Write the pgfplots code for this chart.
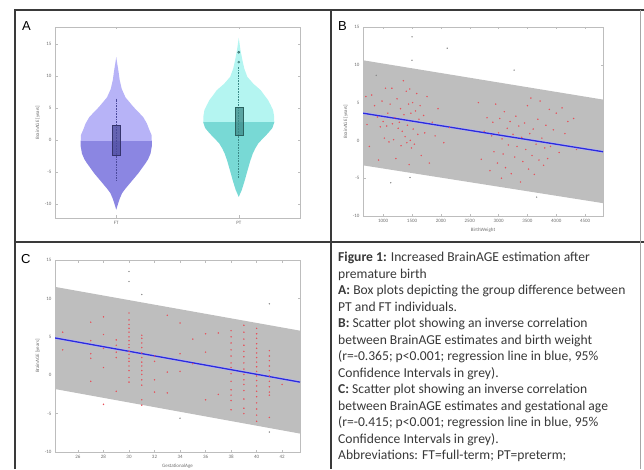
\documentclass[border=0pt]{standalone}
\usepackage{fontspec}
\setmainfont{Carlito}
\newfontfamily\arialf{Liberation Sans}
\usepackage{pgfplots}
\pgfplotsset{compat=1.18}

\definecolor{fram}{HTML}{3A3A3A}
\definecolor{axgray}{HTML}{BDBDBD}
\definecolor{ticklab}{HTML}{6E6E6E}
\definecolor{vioAup}{HTML}{B7B3F7}
\definecolor{vioAlo}{HTML}{8B86E2}
\definecolor{vioBup}{HTML}{B4F5F1}
\definecolor{vioBlo}{HTML}{78D9D5}
\definecolor{boxA}{HTML}{4B4A9C}
\definecolor{boxB}{HTML}{3C8A88}
\definecolor{band}{HTML}{BEBEBE}
\definecolor{regline}{HTML}{2A2AE0}
\definecolor{dotred}{HTML}{E8505A}
\definecolor{dotgray}{HTML}{8A8A8A}
\definecolor{captxt}{HTML}{383838}

\pgfplotsset{
  panel/.style={
    scale only axis, anchor=south west,
    axis line style={axgray, line width=0.5pt},
    tick style={axgray, line width=0.4pt},
    major tick length=2.5pt,
    tick align=inside,
    xtick pos=both, ytick pos=both,
    ticklabel style={font=\fontsize{5}{5}\selectfont, text=ticklab},
    label style={font=\fontsize{5}{5}\selectfont, text=ticklab},
    /pgf/number format/assume math mode=true,
    /pgf/number format/1000 sep={},
    ylabel={BrainAGE [years]},
    xlabel style={yshift=2pt},
    ylabel style={yshift=-2pt},
  },
  dots/.style={only marks, mark=*, mark size=0.65pt, mark options={fill=dotred, draw=dotred, line width=0.1pt}},
  gdots/.style={only marks, mark=*, mark size=0.6pt, mark options={fill=dotgray, draw=dotgray, line width=0.1pt}},
}

\begin{document}
\begin{tikzpicture}
\useasboundingbox (0pt,0pt) rectangle (644pt,469pt);

% ---------- Panel A ----------
\begin{axis}[panel, at={(55pt,251pt)}, width=245pt, height=191pt,
  xmin=0.5, xmax=2.5, ymin=-12.2, ymax=17.7,
  xtick={1,2}, xticklabels={FT,PT}, ytick={-10,-5,0,5,10,15}]
\addplot[fill=vioAup, draw=none] coordinates {
 (1.29,-0.15) (1.288,0.8) (1.27,1.6) (1.25,2.6) (1.22,3.6) (1.18,4.4) (1.14,5.2) (1.105,6.0) (1.075,6.7) (1.045,8.0) (1.028,9.4) (1.018,10.8) (1.008,12.0) (1.0,13.0)
 (0.992,12.0) (0.982,10.8) (0.972,9.4) (0.955,8.0) (0.925,6.7) (0.895,6.0) (0.86,5.2) (0.82,4.4) (0.78,3.6) (0.75,2.6) (0.73,1.6) (0.712,0.8) (0.71,-0.15)} -- cycle;
\addplot[fill=vioAlo, draw=none] coordinates {
 (1.29,-0.15) (1.29,-1.0) (1.28,-2.1) (1.26,-3.0) (1.24,-3.6) (1.21,-4.4) (1.18,-5.2) (1.145,-6.0) (1.11,-6.8) (1.075,-7.6) (1.048,-8.3) (1.03,-9.1) (1.016,-9.9) (1.0,-10.9)
 (0.984,-9.9) (0.97,-9.1) (0.952,-8.3) (0.925,-7.6) (0.89,-6.8) (0.855,-6.0) (0.82,-5.2) (0.79,-4.4) (0.76,-3.6) (0.74,-3.0) (0.72,-2.1) (0.71,-1.0) (0.71,-0.15)} -- cycle;
\addplot[fill=vioBup, draw=none] coordinates {
 (2.29,2.8) (2.288,3.8) (2.28,4.7) (2.26,5.5) (2.24,6.25) (2.21,7.0) (2.18,7.8) (2.12,8.8) (2.07,9.9) (2.045,11.2) (2.03,12.5) (2.015,14.0) (2.0,16.0)
 (1.985,14.0) (1.97,12.5) (1.955,11.2) (1.93,9.9) (1.88,8.8) (1.82,7.8) (1.79,7.0) (1.76,6.25) (1.74,5.5) (1.72,4.7) (1.712,3.8) (1.71,2.8)} -- cycle;
\addplot[fill=vioBlo, draw=none] coordinates {
 (2.29,2.8) (2.275,1.9) (2.24,1.1) (2.2,0.3) (2.16,-0.5) (2.135,-1.3) (2.115,-2.1) (2.095,-3.2) (2.08,-4.2) (2.065,-5.2) (2.05,-6.25) (2.038,-7.0) (2.025,-7.8) (2.0,-8.9)
 (1.975,-7.8) (1.962,-7.0) (1.95,-6.25) (1.935,-5.2) (1.92,-4.2) (1.905,-3.2) (1.885,-2.1) (1.865,-1.3) (1.84,-0.5) (1.8,0.3) (1.76,1.1) (1.725,1.9) (1.71,2.8)} -- cycle;
\addplot[boxA, densely dotted, line width=0.6pt] coordinates {(1,-6.3) (1,6.5)};
\addplot[boxB, densely dotted, line width=0.6pt] coordinates {(2,-5.9) (2,11.4)};
\addplot[fill=boxA, fill opacity=0.75, draw=boxA!70!black, line width=0.3pt] coordinates {(0.967,-2.3) (1.033,-2.3) (1.033,2.3) (0.967,2.3)} -- cycle;
\addplot[fill=boxB, fill opacity=0.75, draw=boxB!70!black, line width=0.3pt] coordinates {(1.967,0.8) (2.033,0.8) (2.033,5.2) (1.967,5.2)} -- cycle;
\addplot[only marks, mark=*, mark size=1.1pt, mark options={fill=boxB!80, draw=boxB!70!black, line width=0.3pt}] coordinates {(2,13.75) (2,12.2)};
\end{axis}

% ---------- Panel B ----------
\begin{axis}[panel, at={(363pt,253pt)}, width=240pt, height=189pt,
  xmin=650, xmax=4810, ymin=-10, ymax=15,
  xtick={1000,1500,2000,2500,3000,3500,4000,4500}, ytick={-10,-5,0,5,10,15},
  xlabel={BirthWeight}]
\addplot[gdots] coordinates {
(880,8.6) (1500,13.7) (1500,10.6) (2110,12.2) (3270,9.3) (1130,-5.6) (1465,-4.9) (3660,-7.5)
};
\addplot[fill=band, draw=none] coordinates {(650,10.6) (4810,5.4) (4810,-8.3) (650,-3.3)} -- cycle;
\addplot[dots] coordinates {
(700,5.8) (720,2.1) (760,-0.8) (800,6.0) (850,4.6) (900,3.1) (920,-2.6) (950,1.8) (980,5.2) (1000,2.5) (1020,0.3) (1040,6.9) (1060,1.9) (1080,3.6) (1100,-0.2) (1120,4.8) (1150,6.9) (1160,2.2) (1180,0.1) (1200,3.0) (1220,-2.4) (1240,5.5) (1260,1.6) (1280,2.4) (1300,4.2) (1310,-0.7) (1330,1.2) (1350,7.9) (1360,3.4) (1380,0.5) (1400,6.5) (1410,-0.3) (1420,2.0) (1440,4.8) (1450,-3.2) (1460,6.8) (1470,0.0) (1480,3.6) (1490,-1.0) (1510,5.0) (1520,1.5) (1540,-0.5) (1560,3.9) (1580,6.2) (1600,0.8) (1620,2.8) (1640,4.6) (1660,-2.0) (1700,3.3) (1720,1.0) (1760,5.8) (1800,-3.0) (1850,2.4) (1900,0.6) (1950,4.2) (2050,-0.3) (2150,1.7)
(2650,5.0) (2700,-2.5) (2750,1.2) (2800,3.0) (2850,-4.0) (2880,0.6) (2900,2.4) (2920,-1.5) (2950,4.8) (2980,-3.0) (3000,1.0) (3020,2.9) (3050,-5.0) (3060,0.2) (3080,-1.8) (3100,3.8) (3120,-3.6) (3150,1.6) (3170,-0.6) (3200,2.5) (3220,-4.4) (3250,0.8) (3280,-2.2) (3300,3.2) (3320,-0.8) (3350,1.9) (3380,-5.5) (3400,0.4) (3420,-2.8) (3450,2.3) (3470,-1.2) (3500,4.6) (3520,-3.8) (3540,0.9) (3560,5.6) (3580,-2.0) (3600,1.5) (3620,-4.5) (3650,-0.5) (3680,2.8) (3700,-2.6) (3720,5.2) (3750,0.3) (3780,-3.3) (3800,-1.0) (3820,2.0) (3850,-2.4) (3880,4.1) (3900,-0.8) (3950,1.4) (4000,3.6) (4050,-1.6) (4100,4.3) (4150,0.9) (4200,2.5) (4300,2.9) (4350,-1.2)
};
\addplot[regline!35, line width=3pt, opacity=0.6] coordinates {(650,3.6) (4810,-1.5)};
\addplot[regline, line width=1.3pt] coordinates {(650,3.6) (4810,-1.5)};
\end{axis}

% ---------- Panel C ----------
\begin{axis}[panel, at={(55pt,17pt)}, width=245pt, height=192pt,
  xmin=24.2, xmax=43.4, ymin=-10, ymax=15,
  xtick={26,28,30,32,34,36,38,40,42}, ytick={-10,-5,0,5,10,15},
  xlabel={GestationalAge}]
\addplot[gdots] coordinates {
(30,13.5) (30,12.2) (31,10.5) (41,9.3) (34,-5.6) (41,-7.4)
};
\addplot[fill=band, draw=none] coordinates {(24.2,11.5) (43.4,5.8) (43.4,-7.6) (24.2,-1.8)} -- cycle;
\addplot[dots] coordinates {
(24.8,5.6) (24.8,3.3)
(27,6.9) (27,4.5) (27,2.8) (27,2.2) (27,-0.8)
(28,7.6) (28,5.3) (28,3.5) (28,1.0) (28,-3.8)
(29,4.6) (29,3.9) (29,3.0) (29,2.3) (29,-2.1)
(30,8.1) (30,7.2) (30,6.6) (30,6.1) (30,5.6) (30,5.0) (30,4.5) (30,4.0) (30,3.6) (30,3.1) (30,2.7) (30,2.2) (30,1.8) (30,1.2) (30,0.6) (30,-0.3) (30,-0.9)
(31,5.2) (31,4.8) (31,4.2) (31,3.6) (31,2.9) (31,2.3) (31,1.7) (31,1.2) (31,0.6) (31,0.1) (31,-0.6) (31,-1.3) (31,-3.2) (31,-3.9)
(32,2.5) (32,1.8) (32,-0.6) (32,-2.2)
(33,7.8) (33,0.4) (33,-2.3)
(34,6.8) (34,2.8) (34,0.5)
(35,4.7) (35,1.5)
(36,5.4) (36,3.0) (36,-3.2)
(37,5.5) (37,-2.5)
(38,5.8) (38,5.0) (38,4.2) (38,3.3) (38,2.5) (38,1.6) (38,1.0) (38,0.2) (38,-0.8) (38,-1.9) (38,-2.6) (38,-3.3) (38,-4.5)
(39,6.5) (39,5.6) (39,4.7) (39,3.9) (39,3.1) (39,2.4) (39,1.6) (39,0.8) (39,0.1) (39,-0.6) (39,-1.2) (39,-2.0) (39,-3.1) (39,-4.3) (39,-5.0)
(40,6.1) (40,5.4) (40,4.8) (40,4.1) (40,3.5) (40,2.9) (40,2.3) (40,1.7) (40,1.1) (40,0.5) (40,-0.1) (40,-0.7) (40,-1.4) (40,-2.1) (40,-2.8) (40,-3.6) (40,-4.4) (40,-5.2) (40,-6.0)
(41,3.2) (41,2.5) (41,1.9) (41,1.2) (41,0.6) (41,-0.1) (41,-0.8) (41,-1.5) (41,-2.2) (41,-2.6) (41,-5.5)
(42,-1.2)
};
\addplot[regline!35, line width=3pt, opacity=0.6] coordinates {(24.2,4.85) (43.4,-0.9)};
\addplot[regline, line width=1.3pt] coordinates {(24.2,4.85) (43.4,-0.9)};
\end{axis}

% ---------- frame ----------
\draw[fram, line width=2.2pt] (15pt,0pt) -- (15pt,459pt) -- (644pt,459pt);
\draw[fram, line width=2.2pt] (331pt,459pt) -- (331pt,0pt);
\draw[fram, line width=2.2pt] (15pt,227pt) -- (644pt,227pt);
\draw[black!35, line width=0.8pt] (640pt,459pt) -- (640pt,0pt);

% panel letters
\node[anchor=base west, inner sep=0, font=\arialf\fontsize{13}{13}\selectfont] at (22pt,438pt) {A};
\node[anchor=base west, inner sep=0, font=\arialf\fontsize{13}{13}\selectfont] at (338pt,438pt) {B};
\node[anchor=base west, inner sep=0, font=\arialf\fontsize{13}{13}\selectfont] at (21pt,206pt) {C};

% caption
\node[anchor=north west, inner sep=0, align=left, text=captxt, font=\fontsize{13.6}{16.5}\selectfont] at (338pt,217pt) {%
\textbf{Figure 1:} Increased BrainAGE estimation after\\
premature birth\\
\textbf{A:} Box plots depicting the group difference between\\
PT and FT individuals.\\
\textbf{B:} Scatter plot showing an inverse correlation\\
between BrainAGE estimates and birth weight\\
(r=-0.365; p<0.001; regression line in blue, 95\%\\
Confidence Intervals in grey).\\
\textbf{C:} Scatter plot showing an inverse correlation\\
between BrainAGE estimates and gestational age\\
(r=-0.415; p<0.001; regression line in blue, 95\%\\
Confidence Intervals in grey).\\
Abbreviations: FT=full-term; PT=preterm;};
\end{tikzpicture}
\end{document}
